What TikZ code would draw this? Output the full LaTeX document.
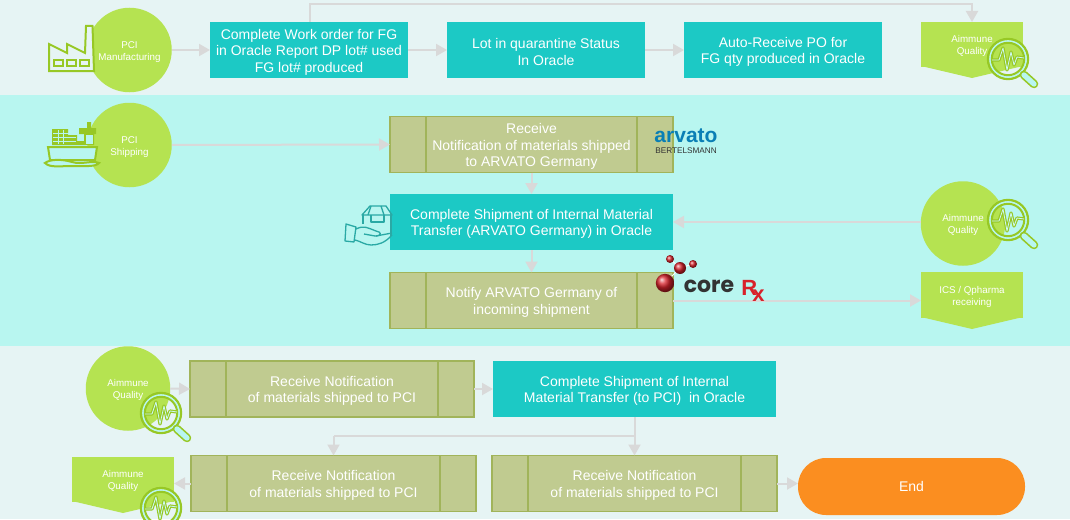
\documentclass[tikz,border=0pt]{standalone}
\usepackage{fontspec}
\setmainfont{Liberation Sans}
\newfontfamily\corefont{Poppins}
\usetikzlibrary{arrows.meta,calc}
\newcommand{\lowermain}{\rule{0pt}{14pt}}
\newcommand{\lowersmall}{\rule{0pt}{11pt}}
\definecolor{paleband}{HTML}{E6F4F4}
\definecolor{aquaband}{HTML}{B8F6F0}
\definecolor{tealbox}{HTML}{1CC9C5}
\definecolor{limefill}{HTML}{B5E351}
\definecolor{limeline}{HTML}{97C825}
\definecolor{olivefill}{HTML}{C0CB90}
\definecolor{oliveline}{HTML}{A1B45A}
\definecolor{linkgrey}{HTML}{D9D9D9}
\definecolor{orangeend}{HTML}{FB8E20}
\definecolor{handteal}{HTML}{2AA9A5}
\definecolor{arvblue}{HTML}{0A7FB5}
\definecolor{corered}{HTML}{D8222A}
\tikzset{
  mainlabel/.style={text=white,align=center,font=\fontsize{14}{16.5}\selectfont,inner sep=0pt,outer sep=0pt},
  smalllabel/.style={text=white,align=center,font=\fontsize{9.8}{12}\selectfont,inner sep=0pt,outer sep=0pt},
  tealnode/.style={mainlabel,fill=tealbox,minimum width=#1,minimum height=56},
  predef/.style={mainlabel,fill=olivefill,draw=oliveline,line width=1.8pt,minimum width=#1,minimum height=56,
    path picture={
      \draw[oliveline,line width=1.8pt] ([xshift=36pt]path picture bounding box.north west) -- ([xshift=36pt]path picture bounding box.south west);
      \draw[oliveline,line width=1.8pt] ([xshift=-36pt]path picture bounding box.north east) -- ([xshift=-36pt]path picture bounding box.south east);
    }},
  roundel/.style={smalllabel,circle,fill=limefill,minimum size=84.5},
  offpage/.style={smalllabel,fill=limefill,minimum width=102,minimum height=45},
  endnode/.style={mainlabel,fill=orangeend,rounded corners=28,minimum width=227,minimum height=57},
  link/.style={linkgrey,line width=2pt,-{Triangle[length=11pt,width=12pt]}},
  plainlink/.style={linkgrey,line width=2pt},
  iconline/.style={limeline,line width=2pt,line join=miter},
  lens/.pic={
    \draw[limeline,line width=2.4pt] (0,0) circle (20);
    \draw[aquaband,line width=1.6pt] (0,0) circle (18);
    \draw[limeline,line width=2pt] (0,0) circle (16.2);
    \draw[limeline,line width=3.5pt] (13,13) -- (17,17);
    \draw[limeline,line width=8.5pt,line cap=round] (16,16) -- (26,25);
    \draw[aquaband,line width=5.2pt,line cap=round] (16,16) -- (26,25);
    \draw[limeline,line width=3.2pt,line join=round] (-16,1) -- (-9,1) -- (-5,-11) -- (-1,11) -- (3,-7) -- (6,6) -- (9,-2) -- (16,-1);
    \draw[aquaband!70!white,line width=.8pt,line join=round] (-16,1) -- (-9,1) -- (-5,-11) -- (-1,11) -- (3,-7) -- (6,6) -- (9,-2) -- (16,-1);
  }
}
\begin{document}
\begin{tikzpicture}[x=1pt,y=-1pt]
\useasboundingbox (0,0) rectangle (1070,519);
% bands
\fill[paleband] (0,0) rectangle (1070,519);
\fill[aquaband] (0,95) rectangle (1070,346);
% nodes, first row
\node[roundel] (mfg) at (129.5,50) {\lowersmall PCI\\Manufacturing};
\node[tealnode=198] (wo) at (309,50) {\lowermain Complete Work order for FG\\in Oracle Report DP lot\# used\\FG lot\# produced};
\node[tealnode=198] (lot) at (546,50) {\lowermain Lot in quarantine Status\\In Oracle};
\node[tealnode=198] (po) at (783,50) {\lowermain Auto-Receive PO for\\FG qty produced in Oracle};
\fill[limefill] (921,66) -- (972,78) -- (1023,66) -- cycle;
\node[offpage] (aq1) at (972,44.5) {\lowersmall Aimmune\\Quality};
% second row
\node[roundel] (ship) at (129.5,145) {\lowersmall PCI\\Shipping};
\node[predef=283] (recv) at (531.5,144.5) {\lowermain Receive\\Notification of materials shipped\\to ARVATO Germany};
\node[tealnode=283] (int) at (531.5,222) {\lowermain Complete Shipment of Internal Material\\Transfer (ARVATO Germany) in Oracle};
\node[predef=283] (notify) at (531.5,300.5) {\lowermain Notify ARVATO Germany of\\incoming shipment};
\node[roundel] (aq2) at (963,223.5) {\lowersmall Aimmune\\Quality};
\fill[limefill] (921,317) -- (972,329) -- (1023,317) -- cycle;
\node[offpage,minimum height=46] (ics) at (972,295) {\lowersmall ICS / Qpharma\\receiving};
% third and fourth rows
\node[roundel] (aq3) at (128,388.5) {\lowersmall Aimmune\\Quality};
\node[predef=284] (r1) at (332,389) {\lowermain Receive Notification\\of materials shipped to PCI};
\node[tealnode=283] (int2) at (634.5,389) {\lowermain Complete Shipment of Internal\\Material Transfer (to PCI)\ \ in Oracle};
\node[predef=285] (r2) at (333.5,483.5) {\lowermain Receive Notification\\of materials shipped to PCI};
\node[predef=285] (r3) at (634.5,483.5) {\lowermain Receive Notification\\of materials shipped to PCI};
\node[endnode] (fin) at (911.5,486.5) {End};
\fill[limefill] (72,501) -- (123,513) -- (174,501) -- cycle;
\node[offpage] (aq4) at (123,479) {\lowersmall Aimmune\\Quality};
% connectors
\draw[link] (mfg.east |- wo.west) -- (wo.west);
\draw[link] (wo.east) -- (lot.west);
\draw[link] (lot.east) -- (po.west);
\coordinate (fbA) at ($(wo.north)+(1,-18)$);
\draw[link] ($(wo.north)+(1,0)$) -- (fbA) -- (fbA -| aq1.north) -- (aq1.north);
\draw[link] (ship.east) -- (recv.west);
\draw[link] (recv.south) -- (int.north);
\draw[link] (int.south) -- (notify.north);
\draw[link] (aq2.west |- int.east) -- (int.east);
\draw[link] (notify.east) -- (notify.east -| ics.west);
\draw[link] (aq3.east) -- (r1.west);
\draw[link] (r1.east) -- (int2.west);
\draw[link] (int2.south) -- (r3.north);
\coordinate (brA) at ($(int2.south)+(0,19)$);
\draw[plainlink] (brA) -- (brA -| r2.north);
\draw[link] (brA -| r2.north) -- (r2.north);
\draw[link] (r2.west) -- (r2.west -| aq4.east);
\draw[link] (r3.east) -- (fin.west |- r3.east);
% magnifiers
\pic at (1008,59) {lens};
\pic at (1008,220) {lens};
\pic at (161,413) {lens};
\pic at (161,508) {lens};
% factory icon
\draw[iconline,fill=paleband] (49,44) -- (67,53) -- (67,44) -- (85,53) -- (86,26) -- (92.5,26) -- (94,71) -- (49,71) -- cycle;
\foreach \wx in {54,67,80}{\draw[iconline] (\wx,60) rectangle ++(9,6);}
% ship icon
\fill[limeline] (52,129) rectangle (68,145) (68,135) rectangle (77,145) (77,141) rectangle (84,145);
\fill[limeline] (87,122) rectangle (91,130) (79,128) rectangle (96,134) (84,134) rectangle (94,145);
\fill[aquaband] (85.5,135) rectangle (92.5,144);
\foreach \sy in {133,137,141}{\draw[aquaband,line width=.8pt] (53,\sy) -- (76,\sy);}
\foreach \sx in {58,63}{\draw[aquaband,line width=.8pt] (\sx,130) -- (\sx,144);}
\draw[iconline,fill=aquaband] (48,147) -- (97,147) -- (95,160) -- (50,160) -- cycle;
\draw[iconline,line cap=round,fill=aquaband] (45,163) .. controls (50,159) and (62,159) .. (72,162) .. controls (82,165) and (92,160) .. (99,163) .. controls (96,167) and (84,166) .. (72,166) .. controls (60,166) and (50,168) .. (45,163) -- cycle;
% hand and parcel icon
\begin{scope}[handteal,line width=1.3pt,line join=round]
\draw (370,206) -- (386,206) -- (392,215) -- (362,215) -- cycle;
\draw (371,206) -- (368,215) (381,206) -- (384,215);
\draw (363,215) -- (363,224) (391,215) -- (391,236);
\draw (371,215) -- (371,222) -- (384,222) -- (384,215);
\draw (346,224) -- (356,227) -- (354,242) -- (345,241) -- cycle;
\draw (356,229) .. controls (364,225) and (368,228) .. (376,231) .. controls (382,232) and (382,236) .. (375,236) -- (364,234);
\draw (376,236) -- (392,233);
\draw (392,235) .. controls (385,243) and (378,245) .. (371,245) .. controls (365,245) and (360,241) .. (355,240);
\end{scope}
% logos
\node[inner sep=0pt,text=arvblue,font=\bfseries\fontsize{21}{21}\selectfont] (arvlogo) at (686,136) {arvato};
\node[inner sep=0pt,text=black!80,font=\fontsize{8.2}{9}\selectfont] (bert) at (686,150.5) {BERTELSMANN};
\draw[white,line width=1pt] (665,283) -- (680,268) (670,259) -- (680,268) -- (693,264);
\shade[ball color=corered] (665,283) circle (9.2);
\shade[ball color=corered] (680,268) circle (6);
\shade[ball color=corered] (670,259) circle (4);
\shade[ball color=corered] (693,264) circle (4);
\node[inner sep=0pt,text=black!80,font=\corefont\bfseries\fontsize{22}{22}\selectfont] (corelogo) at (709,286) {core};
\node[inner sep=0pt,text=corered,font=\bfseries\fontsize{22}{22}\selectfont] (rlogo) at (753,291) {R\kern-5pt\raisebox{-6pt}{x}};
\end{tikzpicture}
\end{document}
